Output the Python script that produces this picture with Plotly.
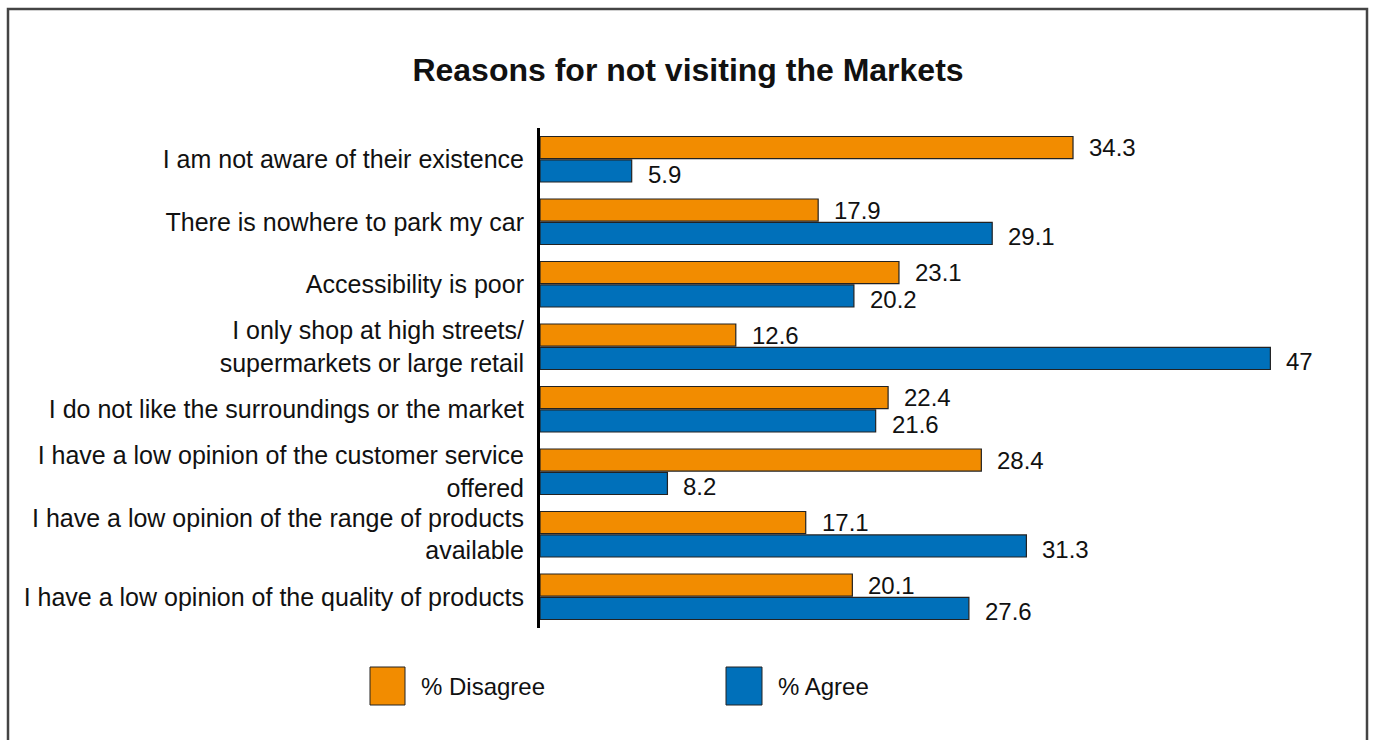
import plotly.graph_objects as go

categories = [
    "I am not aware of their existence",
    "There is nowhere to park my car",
    "Accessibility is poor",
    "I only shop at high streets/<br>supermarkets or large retail",
    "I do not like the surroundings or the market",
    "I have a low opinion of the customer service<br>offered",
    "I have a low opinion of the range of products<br>available",
    "I have a low opinion of the quality of products",
]
disagree = [34.3, 17.9, 23.1, 12.6, 22.4, 28.4, 17.1, 20.1]
agree = [5.9, 29.1, 20.2, 47, 21.6, 8.2, 31.3, 27.6]

ORANGE = "#F28C00"
BLUE = "#0070BA"
FONT = "Liberation Sans, Arial, Helvetica, sans-serif"

W, H = 1373, 740
L, R, T, B = 540, 56, 128, 112
PW, PH = W - L - R, H - T - B


def px_x(px):
    return (px - L) / PW


def px_y(py):
    return (H - B - py) / PH


fig = go.Figure()
for vals, name, col in [(disagree, "% Disagree", ORANGE), (agree, "% Agree", BLUE)]:
    fig.add_trace(go.Bar(
        y=categories, x=vals, orientation="h", name=name,
        marker=dict(color=col, line=dict(color="#222222", width=1.2)),
        showlegend=False,
    ))

shapes = [
    dict(type="rect", xref="paper", yref="paper",
         x0=px_x(8), x1=px_x(1367), y0=px_y(760), y1=px_y(9),
         line=dict(color="#444444", width=2.5), fillcolor="rgba(0,0,0,0)", layer="below"),
    dict(type="rect", xref="paper", yref="paper",
         x0=px_x(370), x1=px_x(405), y0=px_y(705), y1=px_y(667),
         line=dict(color="#222222", width=1), fillcolor=ORANGE),
    dict(type="rect", xref="paper", yref="paper",
         x0=px_x(726), x1=px_x(762), y0=px_y(705), y1=px_y(667),
         line=dict(color="#222222", width=1), fillcolor=BLUE),
]
annotations = [
    dict(xref="paper", yref="paper", x=px_x(419), y=px_y(686), text="% Disagree",
         showarrow=False, xanchor="left", yanchor="middle",
         font=dict(size=24, color="#111111", family=FONT)),
    dict(xref="paper", yref="paper", x=px_x(776), y=px_y(686), text="% Agree",
         showarrow=False, xanchor="left", yanchor="middle",
         font=dict(size=24, color="#111111", family=FONT)),
]

# value labels, placed at the data values
for i, cat in enumerate(categories):
    for vals, ys in [(disagree, 11.5), (agree, -15)]:
        annotations.append(dict(
            x=vals[i], y=i, xref="x", yref="y", text=f"{vals[i]:g}",
            showarrow=False, xanchor="left", yanchor="middle",
            xshift=14, yshift=ys,
            font=dict(size=24, color="#111111", family=FONT),
        ))

fig.update_layout(
    width=W, height=H,
    margin=dict(l=L, r=R, t=T, b=B),
    paper_bgcolor="white", plot_bgcolor="white",
    barmode="group", bargap=0.25, bargroupgap=0.06,
    title=dict(text="<b>Reasons for not visiting the Markets</b>",
               x=688 / W, xanchor="center", y=1 - 70 / H, yanchor="middle",
               font=dict(size=32, color="#111111", family=FONT)),
    xaxis=dict(range=[0, 50], visible=False, showgrid=False, zeroline=False),
    yaxis=dict(autorange="reversed", showline=True, linecolor="black", linewidth=3,
               ticks="", showgrid=False, ticklabelstandoff=8,
               tickfont=dict(size=25, color="#111111", family=FONT)),
    shapes=shapes, annotations=annotations,
    showlegend=False,
)

fig.write_html("out.html")
